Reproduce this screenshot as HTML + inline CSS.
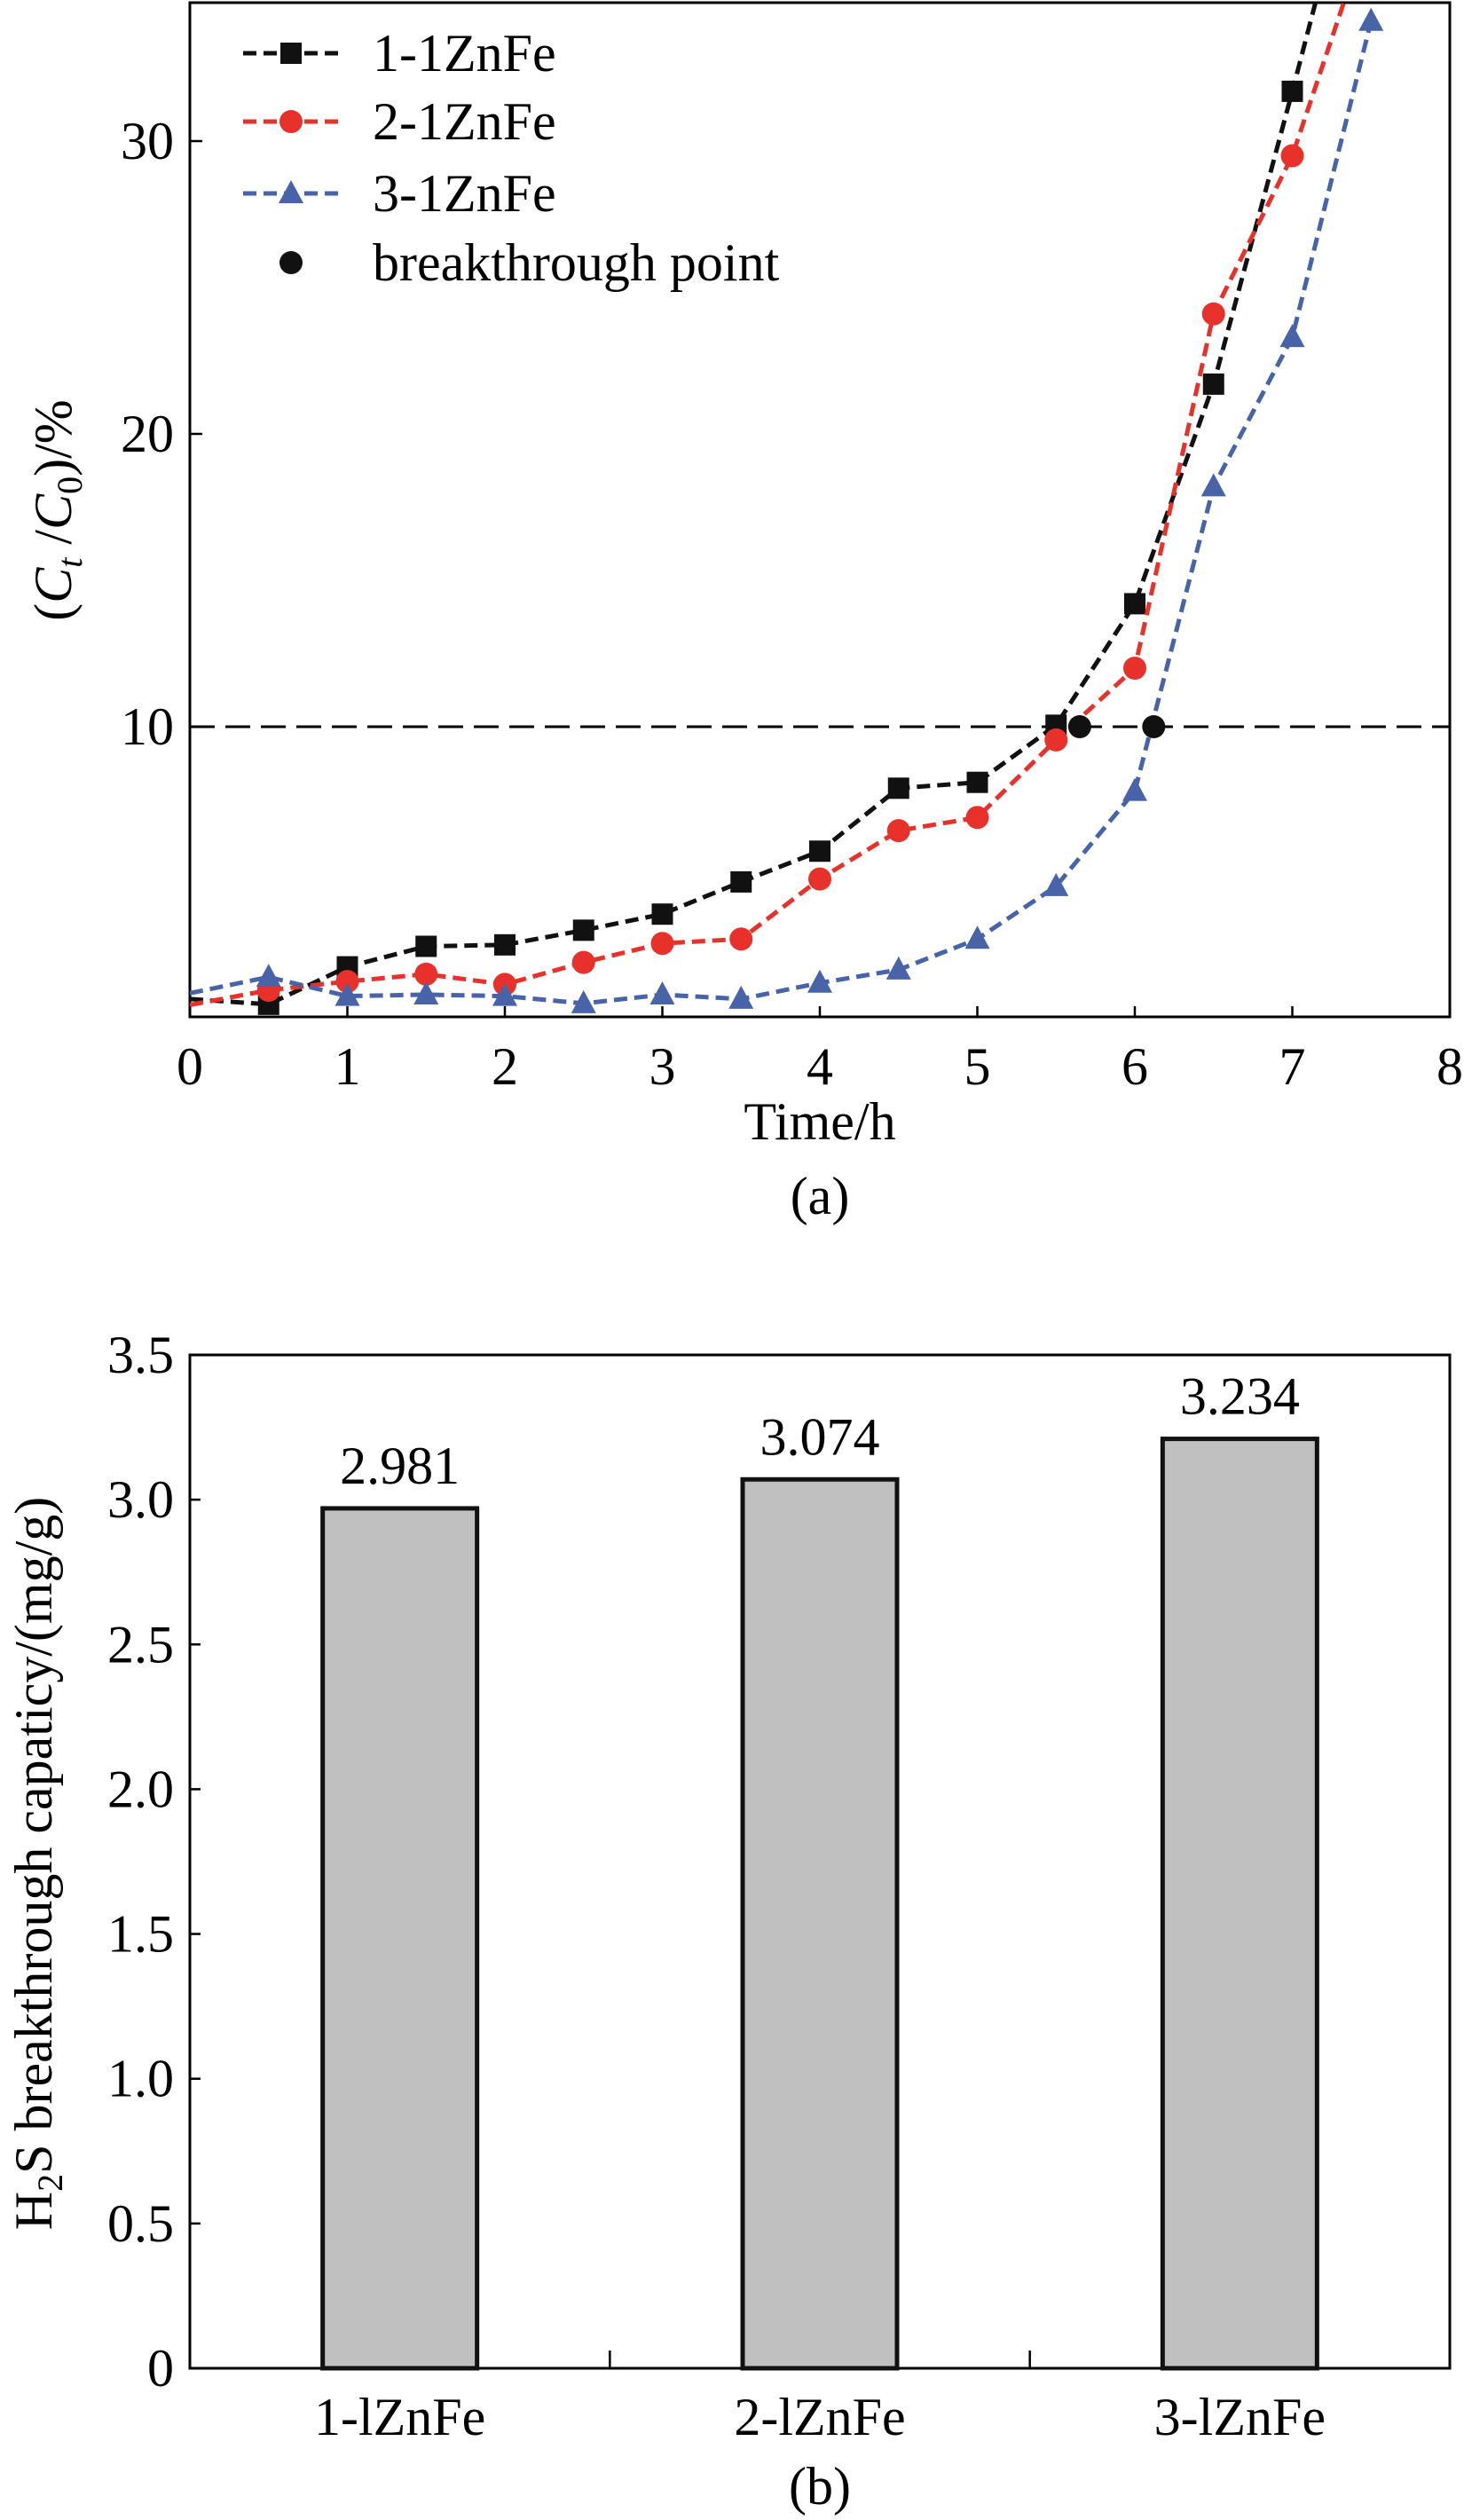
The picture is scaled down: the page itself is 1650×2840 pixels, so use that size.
<!DOCTYPE html>
<html><head><meta charset="utf-8"><style>
body{margin:0;background:#fff}
svg{display:block;font-family:"Liberation Serif",serif}
</style></head><body>
<svg width="1650" height="2840" viewBox="0 0 1650 2840">
<defs><clipPath id="clipA"><rect x="214" y="3" width="1420" height="1143"/></clipPath></defs>
<g id="chartA"></g>
<g id="chartB"></g>
</svg>
<script>
const NS='http://www.w3.org/2000/svg';
const timeA=[0,0.5,1,1.5,2,2.5,3,3.5,4,4.5,5,5.5,6,6.5,7,7.5];
const s1=[0.7,0.52,1.8,2.5,2.55,3.05,3.6,4.7,5.75,7.9,8.1,10.05,14.2,21.7,31.7,42];
const s2=[0.5,1.0,1.3,1.55,1.2,1.95,2.6,2.75,4.8,6.45,6.9,9.55,12.0,24.1,29.5,37.5];
const s3=[0.9,1.45,0.8,0.85,0.8,0.55,0.85,0.7,1.25,1.7,2.75,4.55,7.8,18.2,23.3,34.1];
const markerIdx1=[1,2,3,4,5,6,7,8,9,10,11,12,13,14];
const markerIdx2=[1,2,3,4,5,6,7,8,9,10,11,12,13,14];
const markerIdx3=[1,2,3,4,5,6,7,8,9,10,11,12,13,14,15];
const btTimes=[5.65,6.12];
const btValues=[10,10];
const xTicksA=[0,1,2,3,4,5,6,7,8];
const yTicksA=[10,20,30];
const categoriesB=['1-lZnFe','2-lZnFe','3-lZnFe'];
const valuesB=[2.981,3.074,3.234];
const barHeightsB=[2.97,3.07,3.21];
const yTicksB=['0','0.5','1.0','1.5','2.0','2.5','3.0','3.5'];
const FS=60;

function el(tag,attrs,parent,text){const e=document.createElementNS(NS,tag);for(const k in attrs)e.setAttribute(k,attrs[k]);if(text!==undefined)e.textContent=text;parent.appendChild(e);return e;}
const A=document.getElementById('chartA');
const xA=t=>214+177.5*t;
const yA=v=>1149-33*v;
const fa=el('rect',{x:214,y:3,width:1420,height:1143,fill:'none',stroke:'#000','stroke-width':3},A);


xTicksA.forEach(t=>{
  const l=el('line',{x1:xA(t),x2:xA(t),y1:1146,y2:1134,stroke:'#000','stroke-width':2.5},A);
  
  
  const tx=el('text',{x:xA(t),y:1222,'font-size':FS,'text-anchor':'middle'},A,String(t));
  
  
});
yTicksA.forEach(v=>{
  const l=el('line',{x1:214,x2:228,y1:yA(v),y2:yA(v),stroke:'#000','stroke-width':2.5},A);
  
  
  const tx=el('text',{x:196,y:yA(v)+20,'font-size':FS,'text-anchor':'end'},A,String(v));
  
  
});
const ref=el('line',{x1:214,x2:1634,y1:yA(10),y2:yA(10),stroke:'#000','stroke-width':3,'stroke-dasharray':'28 12'},A);


const xt=el('text',{x:924,y:1284,'font-size':FS,'text-anchor':'middle'},A,'Time/h');


const la=el('text',{x:924,y:1368,'font-size':FS,'text-anchor':'middle'},A,'(a)');


const yt=el('text',{transform:'translate(80,575) rotate(-90)','font-size':FS,'text-anchor':'middle'},A);


yt.innerHTML='(<tspan font-style="italic">C</tspan><tspan font-style="italic" font-size="40" dy="12">t</tspan><tspan dy="-12"> /</tspan><tspan font-style="italic">C</tspan><tspan font-size="40" dy="12">0</tspan><tspan dy="-12">)/%</tspan>';
const plotG=el('g',{'clip-path':'url(#clipA)'},A);
function marker(g,type,cx,cy,color){
  let m;
  if(type==='sq') m=el('rect',{x:cx-12,y:cy-12,width:24,height:24,fill:color},g);
  else if(type==='ci') m=el('circle',{cx:cx,cy:cy,r:13,fill:color},g);
  else m=el('polygon',{points:`${cx},${cy-15} ${cx+14},${cy+11} ${cx-14},${cy+11}`,fill:color},g);
  return m;
}
const series=[[s1,'#111','sq',markerIdx1,'series-1-1znfe'],[s2,'#e8312b','ci',markerIdx2,'series-2-1znfe'],[s3,'#4863a8','tr',markerIdx3,'series-3-1znfe']];
series.forEach(([vals,col,type,idx,name])=>{
  const g=el('g',{},plotG);
  
  
  const pts=vals.map((v,i)=>xA(timeA[i])+','+yA(v)).join(' ');
  const pl=el('polyline',{points:pts,fill:'none',stroke:col,'stroke-width':5,'stroke-dasharray':'15 8'},g);
  
  
  idx.forEach(i=>{
    const m=marker(g,type,xA(timeA[i]),yA(vals[i]),col);
    
    
  });
});
btTimes.forEach((t,i)=>{
  const c=el('circle',{cx:xA(t),cy:yA(btValues[i]),r:13,fill:'#111'},plotG);
  
  
});
const leg=el('g',{},A);


const legItems=[['1-1ZnFe','#111','sq',60],['2-1ZnFe','#e8312b','ci',137],['3-1ZnFe','#4863a8','tr',218],['breakthrough point','#111','bp',296]];
legItems.forEach(([lab,col,type,y])=>{
  const g=el('g',{},leg);
  
  
  if(type!=='bp') el('line',{x1:274,x2:382,y1:y,y2:y,stroke:col,'stroke-width':5,'stroke-dasharray':'15 8'},g);
  marker(g,type==='bp'?'ci':type,328,y,col);
  el('text',{x:420,y:y+20,'font-size':FS},g,lab);
});

const B=document.getElementById('chartB');
const yB=v=>2669-326.3*v;
const band=1420/categoriesB.length;
const xB=i=>214+band*(i+0.5);
const fb=el('rect',{x:214,y:1527,width:1420,height:1142,fill:'none',stroke:'#000','stroke-width':3},B);


yTicksB.forEach(s=>{
  const v=parseFloat(s);
  const l=el('line',{x1:214,x2:226,y1:yB(v),y2:yB(v),stroke:'#000','stroke-width':2.5},B);
  
  
  const tx=el('text',{x:196,y:yB(v)+20,'font-size':FS,'text-anchor':'end'},B,s);
  
  
});
for(let i=1;i<categoriesB.length;i++){
  const l=el('line',{x1:214+band*i,x2:214+band*i,y1:2669,y2:2649,stroke:'#000','stroke-width':2.5},B);
  
  
}
categoriesB.forEach((c,i)=>{
  const r=el('rect',{x:xB(i)-87,y:yB(barHeightsB[i]),width:174,height:2669-yB(barHeightsB[i]),fill:'#c0c0c0',stroke:'#111','stroke-width':5},B);
  
  
  const vt=el('text',{x:xB(i),y:yB(barHeightsB[i])-28,'font-size':FS,'text-anchor':'middle'},B,valuesB[i].toFixed(3));
  
  
  const ct=el('text',{x:xB(i),y:2744,'font-size':FS,'text-anchor':'middle'},B,c);
  
  
});
const lb=el('text',{x:924,y:2822,'font-size':FS,'text-anchor':'middle'},B,'(b)');


const ytb=el('text',{transform:'translate(58,2100) rotate(-90)','font-size':FS,'text-anchor':'middle'},B);


ytb.innerHTML='H<tspan font-size="40" dy="12">2</tspan><tspan dy="-12">S breakthrough capaticy/(mg/g)</tspan>';
</script>
</body></html>
